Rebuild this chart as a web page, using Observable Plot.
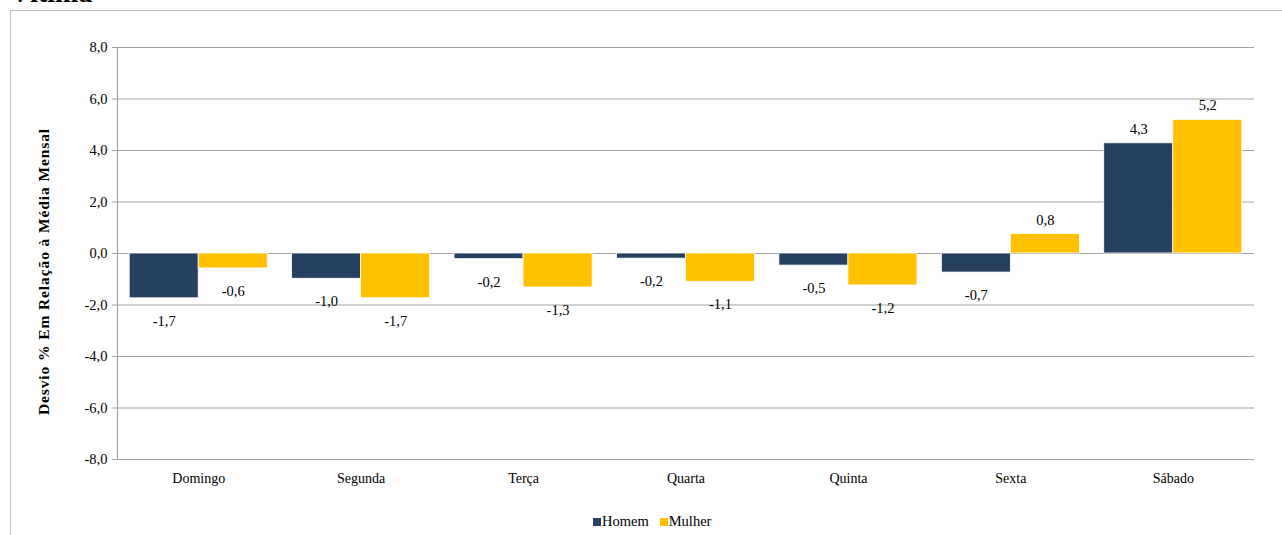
<!DOCTYPE html>
<html>
<head>
<meta charset="utf-8">
<script src="https://cdn.jsdelivr.net/npm/d3@7"></script>
<script src="https://cdn.jsdelivr.net/npm/@observablehq/plot@0.6"></script>
<style>
  html, body { margin: 0; padding: 0; background: #fff; }
  body { width: 1282px; height: 535px; overflow: hidden; position: relative; font-family: "Liberation Serif", "Times New Roman", serif; }
  #title { position: absolute; left: 10px; top: -21px; font-family: "Liberation Serif", "Times New Roman", serif; font-weight: bold; font-size: 28px; line-height: 28px; color: #000; white-space: nowrap; }
  #box { position: absolute; left: 10px; top: 10px; width: 1300px; height: 600px; border: 1px solid #bfbfbf; box-sizing: border-box; }
  #chart { position: absolute; left: 0; top: 0; }
  #chart g[font-weight="bold"] text { letter-spacing: 0.9px; }
  #legend { position: absolute; left: 593px; top: 513px; display: flex; align-items: center; font-family: "Liberation Serif", "Times New Roman", serif; font-size: 14.5px; color: #000; }
  #legend .item { display: flex; align-items: center; margin-right: 11px; }
  #legend .sw { width: 8px; height: 8px; margin-right: 1px; }
</style>
</head>
<body>
<div id="title">Vítima</div>
<div id="box"></div>
<div id="chart"></div>
<div id="legend"></div>
<script>
// ---- data ----
const days = ["Domingo", "Segunda", "Terça", "Quarta", "Quinta", "Sexta", "Sábado"];
const series = ["Homem", "Mulher"];
const homem = [-1.74, -0.98, -0.22, -0.20, -0.47, -0.74, 4.28];
const mulher = [-0.58, -1.74, -1.32, -1.10, -1.24, 0.76, 5.19];
const yTicks = [-8, -6, -4, -2, 0, 2, 4, 6, 8];
const colors = ["#254061", "#FFC000"];
const yTitle = "Desvio % Em Relação à Média Mensal";

// ---- table ----
const rows = [];
days.forEach((day, i) => {
  rows.push({day, i, s: 0, sex: series[0], value: homem[i]});
  rows.push({day, i, s: 1, sex: series[1], value: mulher[i]});
});
const w = 0.425; // bar width in category units
const fmt = v => v.toFixed(1).replace(".", ",");
const grid = "#a3a3a3";
const serif = '"Liberation Serif", "Times New Roman", serif';

const chart = Plot.plot({
  width: 1282,
  height: 495,
  marginLeft: 117,
  marginRight: 28,
  marginTop: 47,
  marginBottom: 36,
  style: { fontFamily: serif, fontSize: "14px", color: "#000", background: "transparent", overflow: "visible" },
  x: { domain: [-0.5, days.length - 0.5] },
  y: { domain: [-8, 8] },
  color: { domain: series, range: colors },
  marks: [
    Plot.ruleY(yTicks, { stroke: grid, strokeWidth: 1.2 }),
    Plot.ruleX([-0.5], { stroke: grid, strokeWidth: 1.2 }),
    Plot.rectY(rows, {
      x1: d => d.i + (d.s - 1) * w,
      x2: d => d.i + d.s * w,
      y1: 0,
      y2: "value",
      fill: "sex",
      stroke: "#ffffff",
      strokeWidth: 0.8
    }),
    Plot.axisY({
      ticks: yTicks,
      tickFormat: fmt,
      tickSize: 5,
      tickPadding: 5,
      stroke: grid,
      fontFamily: serif,
      fontSize: 14.5,
      label: null
    }),
    Plot.text([yTitle], {
      frameAnchor: "left",
      textAnchor: "middle",
      rotate: -90,
      dx: -73,
      dy: 18,
      fontFamily: serif,
      fontWeight: "bold",
      fontSize: 15.5,
      fill: "#000"
    }),
    Plot.axisX({
      ticks: d3.range(days.length),
      tickFormat: i => days[i],
      tickSize: 0,
      tickPadding: 14,
      fontFamily: serif,
      fontSize: 14,
      label: null
    }),
    Plot.text(rows.filter(d => d.value < 0), {
      x: d => d.i + (d.s - 0.5) * w,
      y: "value",
      text: d => fmt(d.value),
      dy: 23,
      fontFamily: serif,
      fontSize: 14.5,
      fill: "#000"
    }),
    Plot.text(rows.filter(d => d.value >= 0), {
      x: d => d.i + (d.s - 0.5) * w,
      y: "value",
      text: d => fmt(d.value),
      dy: -14,
      fontFamily: serif,
      fontSize: 14.5,
      fill: "#000"
    })
  ]
});
document.getElementById("chart").appendChild(chart);

// legend
const lg = document.getElementById("legend");
series.forEach((name, k) => {
  const item = document.createElement("div");
  item.className = "item";
  const sw = document.createElement("span");
  sw.className = "sw";
  sw.style.background = colors[k];
  const t = document.createElement("span");
  t.textContent = name;
  item.appendChild(sw);
  item.appendChild(t);
  lg.appendChild(item);
});
</script>
</body>
</html>
